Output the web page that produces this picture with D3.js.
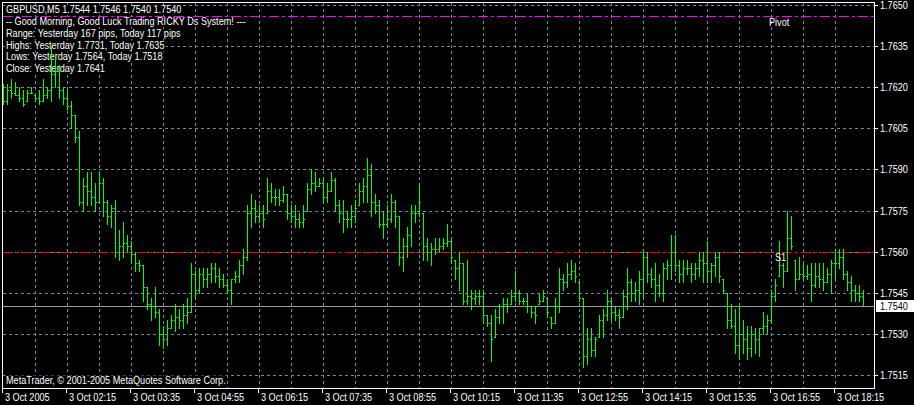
<!DOCTYPE html>
<html>
<head>
<meta charset="utf-8">
<script src="https://cdn.jsdelivr.net/npm/d3@7"></script>
<style>
body { margin: 0; background: #000; }
svg { display: block; }
text { font-family: "Liberation Sans", Arial, sans-serif; font-size: 11px; }
</style>
</head>
<body>
<svg id="chart" width="914" height="405"></svg>
<script>
var symbolTitle = "GBPUSD,M5  1.7544 1.7546 1.7540 1.7540";
var commentLines = [
  "-- Good Morning, Good Luck Trading RICKY Ds System! ---",
  "Range: Yesterday 167 pips, Today 117 pips",
  "Highs: Yesterday 1.7731, Today 1.7635",
  "Lows:  Yesterday 1.7564, Today 1.7518",
  "Close: Yesterday 1.7641"
];
var copyright = "MetaTrader, \u00a9 2001-2005 MetaQuotes Software Corp.";
var timeLabels = ["3 Oct 2005", "3 Oct 02:15", "3 Oct 03:35", "3 Oct 04:55", "3 Oct 06:15", "3 Oct 07:35",
  "3 Oct 08:55", "3 Oct 10:15", "3 Oct 11:35", "3 Oct 12:55", "3 Oct 14:15", "3 Oct 15:35", "3 Oct 16:55", "3 Oct 18:15"];
var priceTicks = [1.7650, 1.7635, 1.7620, 1.7605, 1.7590, 1.7575, 1.7560, 1.7545, 1.7530, 1.7515];
var pivotLevel = 1.7646;
var s1Level = 1.7560;
var lastPrice = 1.7540;

var opens = [
1.7618,1.7615,1.7619,1.7618,1.7617,1.7616,1.7615,1.7618,1.7617,1.7616,
1.7615,1.7617,1.7619,1.7625,1.7626,1.7619,1.7616,1.7613,1.7610,1.7602,
1.7578,1.7584,1.7582,1.7580,1.7578,1.7585,1.7578,1.7573,1.7576,1.7560,
1.7562,1.7563,1.7562,1.7559,1.7556,1.7555,1.7547,1.7541,1.7540,1.7538,
1.7530,1.7528,1.7532,1.7535,1.7536,1.7535,1.7537,1.7538,1.7552,1.7546,
1.7552,1.7550,1.7552,1.7554,1.7551,1.7550,1.7548,1.7546,1.7550,1.7551,
1.7555,1.7558,1.7574,1.7576,1.7573,1.7574,1.7574,1.7582,1.7580,1.7580,
1.7579,1.7581,1.7574,1.7573,1.7572,1.7571,1.7575,1.7583,1.7585,1.7584,
1.7585,1.7580,1.7582,1.7586,1.7577,1.7574,1.7572,1.7572,1.7573,1.7577,
1.7582,1.7584,1.7588,1.7578,1.7577,1.7570,1.7570,1.7572,1.7578,1.7573,
1.7558,1.7562,1.7566,1.7574,1.7574,1.7574,1.7562,1.7560,1.7561,1.7561,
1.7562,1.7563,1.7564,1.7557,1.7554,1.7556,1.7542,1.7544,1.7543,1.7544,
1.7544,1.7537,1.7534,1.7529,1.7536,1.7540,1.7541,1.7541,1.7544,1.7545,
1.7542,1.7542,1.7540,1.7538,1.7541,1.7542,1.7543,1.7536,1.7534,1.7540,
1.7550,1.7549,1.7552,1.7553,1.7549,1.7543,1.7522,1.7528,1.7524,1.7529,
1.7535,1.7537,1.7542,1.7538,1.7537,1.7536,1.7544,1.7549,1.7545,1.7546,
1.7550,1.7558,1.7552,1.7550,1.7548,1.7545,1.7554,1.7555,1.7560,1.7555,
1.7552,1.7554,1.7554,1.7552,1.7554,1.7557,1.7556,1.7553,1.7555,1.7558,
1.7550,1.7545,1.7535,1.7533,1.7526,1.7530,1.7528,1.7525,1.7530,1.7528,
1.7532,1.7533,1.7535,1.7544,1.7551,1.7555,1.7553,1.7565,1.7557,1.7550,
1.7552,1.7551,1.7552,1.7548,1.7551,1.7550,1.7549,1.7552,1.7556,1.7556,
1.7558,1.7552,1.7549,1.7546,1.7545,1.7544];
var highs = [
1.7621,1.7621,1.7623,1.7622,1.7620,1.7619,1.7619,1.7620,1.7617,1.7619,
1.7623,1.7620,1.7635,1.7632,1.7628,1.7620,1.7619,1.7615,1.7610,1.7604,
1.7587,1.7589,1.7589,1.7585,1.7589,1.7587,1.7579,1.7577,1.7579,1.7568,
1.7571,1.7566,1.7564,1.7560,1.7557,1.7555,1.7547,1.7543,1.7547,1.7539,
1.7533,1.7535,1.7537,1.7541,1.7539,1.7541,1.7543,1.7556,1.7553,1.7554,
1.7554,1.7554,1.7556,1.7556,1.7554,1.7552,1.7550,1.7550,1.7553,1.7557,
1.7561,1.7577,1.7581,1.7579,1.7577,1.7577,1.7587,1.7585,1.7583,1.7583,
1.7584,1.7581,1.7577,1.7577,1.7574,1.7577,1.7585,1.7590,1.7589,1.7587,
1.7587,1.7585,1.7589,1.7587,1.7579,1.7579,1.7575,1.7577,1.7579,1.7585,
1.7587,1.7594,1.7592,1.7581,1.7579,1.7575,1.7577,1.7581,1.7579,1.7573,
1.7565,1.7569,1.7577,1.7577,1.7585,1.7574,1.7565,1.7563,1.7565,1.7565,
1.7565,1.7570,1.7565,1.7557,1.7560,1.7556,1.7557,1.7546,1.7546,1.7546,
1.7546,1.7537,1.7537,1.7539,1.7541,1.7543,1.7543,1.7546,1.7553,1.7546,
1.7543,1.7545,1.7540,1.7540,1.7545,1.7546,1.7543,1.7536,1.7543,1.7554,
1.7552,1.7556,1.7557,1.7556,1.7549,1.7543,1.7532,1.7532,1.7529,1.7537,
1.7539,1.7546,1.7543,1.7540,1.7539,1.7546,1.7554,1.7550,1.7549,1.7553,
1.7561,1.7560,1.7554,1.7556,1.7552,1.7556,1.7557,1.7566,1.7566,1.7557,
1.7557,1.7557,1.7556,1.7556,1.7560,1.7560,1.7564,1.7556,1.7560,1.7560,
1.7550,1.7545,1.7541,1.7539,1.7540,1.7535,1.7533,1.7533,1.7532,1.7532,
1.7538,1.7537,1.7546,1.7550,1.7564,1.7556,1.7575,1.7573,1.7557,1.7558,
1.7556,1.7555,1.7556,1.7556,1.7556,1.7556,1.7554,1.7557,1.7561,1.7561,
1.7561,1.7553,1.7551,1.7548,1.7548,1.7546];
var lows = [
1.7614,1.7614,1.7616,1.7617,1.7615,1.7613,1.7615,1.7618,1.7615,1.7614,
1.7615,1.7616,1.7615,1.7620,1.7616,1.7614,1.7612,1.7605,1.7600,1.7577,
1.7575,1.7577,1.7577,1.7575,1.7578,1.7573,1.7570,1.7569,1.7558,1.7557,
1.7558,1.7560,1.7556,1.7553,1.7553,1.7542,1.7539,1.7535,1.7536,1.7526,
1.7525,1.7526,1.7532,1.7531,1.7532,1.7532,1.7534,1.7538,1.7543,1.7545,
1.7547,1.7547,1.7549,1.7549,1.7547,1.7547,1.7545,1.7541,1.7549,1.7549,
1.7552,1.7557,1.7569,1.7571,1.7571,1.7569,1.7574,1.7578,1.7577,1.7577,
1.7578,1.7572,1.7571,1.7569,1.7569,1.7569,1.7575,1.7581,1.7582,1.7584,
1.7578,1.7578,1.7582,1.7575,1.7571,1.7567,1.7569,1.7569,1.7571,1.7577,
1.7578,1.7578,1.7573,1.7574,1.7569,1.7565,1.7569,1.7571,1.7569,1.7555,
1.7553,1.7558,1.7562,1.7571,1.7573,1.7557,1.7557,1.7555,1.7559,1.7560,
1.7561,1.7562,1.7556,1.7550,1.7546,1.7541,1.7541,1.7539,1.7541,1.7541,
1.7534,1.7533,1.7520,1.7529,1.7534,1.7534,1.7538,1.7541,1.7542,1.7541,
1.7541,1.7538,1.7536,1.7534,1.7541,1.7542,1.7536,1.7532,1.7534,1.7538,
1.7546,1.7547,1.7550,1.7549,1.7542,1.7518,1.7519,1.7522,1.7522,1.7529,
1.7529,1.7535,1.7535,1.7535,1.7532,1.7536,1.7539,1.7542,1.7542,1.7541,
1.7543,1.7549,1.7547,1.7542,1.7544,1.7542,1.7550,1.7550,1.7553,1.7549,
1.7549,1.7552,1.7549,1.7550,1.7551,1.7549,1.7549,1.7549,1.7551,1.7549,
1.7545,1.7532,1.7532,1.7523,1.7521,1.7523,1.7521,1.7522,1.7523,1.7522,
1.7530,1.7530,1.7534,1.7542,1.7551,1.7547,1.7553,1.7561,1.7546,1.7550,
1.7550,1.7550,1.7542,1.7547,1.7547,1.7546,1.7549,1.7545,1.7550,1.7554,
1.7550,1.7546,1.7542,1.7542,1.7542,1.7540];
var closes = [
1.7615,1.7619,1.7618,1.7617,1.7616,1.7614,1.7618,1.7618,1.7616,1.7615,
1.7617,1.7619,1.7625,1.7626,1.7619,1.7616,1.7613,1.7610,1.7602,1.7578,
1.7584,1.7582,1.7580,1.7578,1.7585,1.7578,1.7573,1.7576,1.7560,1.7562,
1.7563,1.7562,1.7559,1.7556,1.7555,1.7547,1.7541,1.7540,1.7538,1.7530,
1.7528,1.7532,1.7535,1.7536,1.7535,1.7537,1.7538,1.7552,1.7546,1.7552,
1.7550,1.7552,1.7554,1.7551,1.7550,1.7548,1.7546,1.7550,1.7551,1.7555,
1.7558,1.7574,1.7576,1.7573,1.7574,1.7572,1.7582,1.7580,1.7580,1.7579,
1.7581,1.7574,1.7573,1.7572,1.7571,1.7572,1.7583,1.7585,1.7584,1.7585,
1.7580,1.7582,1.7586,1.7577,1.7574,1.7572,1.7572,1.7573,1.7576,1.7582,
1.7584,1.7588,1.7578,1.7577,1.7570,1.7570,1.7572,1.7578,1.7573,1.7558,
1.7562,1.7566,1.7574,1.7574,1.7578,1.7562,1.7560,1.7561,1.7561,1.7562,
1.7563,1.7564,1.7558,1.7554,1.7556,1.7542,1.7544,1.7543,1.7544,1.7544,
1.7537,1.7534,1.7528,1.7536,1.7540,1.7541,1.7540,1.7544,1.7545,1.7542,
1.7542,1.7540,1.7538,1.7537,1.7542,1.7544,1.7538,1.7534,1.7540,1.7550,
1.7549,1.7552,1.7553,1.7551,1.7543,1.7522,1.7528,1.7524,1.7528,1.7535,
1.7537,1.7542,1.7538,1.7537,1.7536,1.7544,1.7549,1.7545,1.7546,1.7550,
1.7558,1.7552,1.7550,1.7548,1.7545,1.7554,1.7555,1.7560,1.7555,1.7552,
1.7554,1.7554,1.7552,1.7554,1.7557,1.7556,1.7553,1.7555,1.7558,1.7551,
1.7546,1.7535,1.7533,1.7526,1.7530,1.7528,1.7525,1.7530,1.7528,1.7532,
1.7533,1.7535,1.7544,1.7548,1.7555,1.7553,1.7565,1.7562,1.7550,1.7552,
1.7551,1.7552,1.7548,1.7551,1.7550,1.7549,1.7552,1.7556,1.7556,1.7558,
1.7552,1.7549,1.7546,1.7545,1.7544,1.7540];

var svg = d3.select('#chart');
var W = 914, H = 405;
var plotLeft = 2, plotRight = 874, plotTop = 2, plotBottom = 388;
var textScale = 0.83;

svg.append('rect').attr('width', W).attr('height', H).attr('fill', '#000');

var x = d3.scaleLinear().domain([0, opens.length - 1]).range([3, 3 + 4 * (opens.length - 1)]);
var y = d3.scaleLinear().domain([1.7515, 1.7650]).range([375.5, 5.5]);
function py(v) { return Math.floor(y(v)); }

// narrow text, like the terminal's bitmap font
function label(parent, tx, ty, str, fill) {
  return parent.append('text')
    .attr('transform', 'translate(' + tx + ',' + ty + ') scale(' + textScale + ',1)')
    .attr('fill', fill)
    .text(str);
}
// tight black box behind a text line (cap top to just under baseline)
function backing(parent, t, tx, ty, below) {
  var bb = t.node().getBBox();
  parent.insert('rect', function() { return t.node(); })
    .attr('x', tx - 1).attr('y', ty - 8)
    .attr('width', bb.width * textScale + 2)
    .attr('height', 8 + below)
    .attr('fill', '#000');
}

var grid = svg.append('g').attr('id', 'grid')
  .attr('stroke', '#778899').attr('stroke-dasharray', '3,3').attr('stroke-width', 1);

grid.selectAll('line.h').data(priceTicks).join('line')
  .attr('class', 'h')
  .attr('x1', plotLeft + 1).attr('x2', plotRight)
  .attr('y1', d => py(d) + 0.5).attr('y2', d => py(d) + 0.5);

grid.selectAll('line.v').data(d3.range(8, opens.length, 8)).join('line')
  .attr('class', 'v')
  .attr('x1', d => x(d) + 0.5).attr('x2', d => x(d) + 0.5)
  .attr('y1', plotTop + 1).attr('y2', plotBottom);

// info text block (drawn before the level lines so the pivot line stays on top)
var info = svg.append('g').attr('id', 'info');
var infoLines = [symbolTitle].concat(commentLines);
var baselines = [13, 25, 37, 48.5, 60, 71.5];
infoLines.forEach(function(t, k) {
  var tx = label(info, 6, baselines[k], t, '#fff');
  backing(info, tx, 6, baselines[k], 2);
});
var cpg = svg.append('g');
var cp = label(cpg, 6, 383.5, copyright, '#fff');
backing(cpg, cp, 6, 383.5, 4);

// pivot / S1 / bid lines
svg.append('line')
  .attr('x1', plotLeft + 1).attr('x2', plotRight)
  .attr('y1', py(pivotLevel) + 0.5).attr('y2', py(pivotLevel) + 0.5)
  .attr('stroke', '#ff00ff').attr('stroke-dasharray', '10,3,3,3');
svg.append('line')
  .attr('x1', plotLeft + 1).attr('x2', plotRight)
  .attr('y1', py(s1Level) + 0.5).attr('y2', py(s1Level) + 0.5)
  .attr('stroke', '#ff0000').attr('stroke-dasharray', '10,3,3,3');
svg.append('line')
  .attr('x1', plotLeft + 1).attr('x2', plotRight)
  .attr('y1', py(lastPrice) + 0.5).attr('y2', py(lastPrice) + 0.5)
  .attr('stroke', '#8f98a3');

// OHLC bars
var bars = svg.append('g').attr('id', 'bars').attr('fill', '#00ff00');
var idx = d3.range(opens.length);
bars.selectAll('rect.hl').data(idx).join('rect')
  .attr('class', 'hl')
  .attr('x', i => x(i)).attr('width', 1)
  .attr('y', i => py(highs[i]))
  .attr('height', i => py(lows[i]) - py(highs[i]) + 1);
bars.selectAll('rect.o').data(idx).join('rect')
  .attr('class', 'o')
  .attr('x', i => x(i) - 1).attr('width', 1)
  .attr('y', i => py(opens[i])).attr('height', 1);
bars.selectAll('rect.c').data(idx).join('rect')
  .attr('class', 'c')
  .attr('x', i => x(i) + 1).attr('width', 1)
  .attr('y', i => py(closes[i])).attr('height', 1);

label(svg, 769, 26, 'Pivot', '#fff');
label(svg, 775, 261, 'S1', '#fff');

// frame
var frame = svg.append('g').attr('stroke', '#fff').attr('stroke-width', 1);
frame.append('line').attr('x1', plotLeft + 0.5).attr('x2', plotLeft + 0.5).attr('y1', plotTop).attr('y2', plotBottom + 1);
frame.append('line').attr('x1', plotRight + 0.5).attr('x2', plotRight + 0.5).attr('y1', plotTop).attr('y2', plotBottom + 1);
frame.append('line').attr('x1', plotLeft).attr('x2', plotRight + 1).attr('y1', plotTop + 0.5).attr('y2', plotTop + 0.5);
frame.append('line').attr('x1', plotLeft).attr('x2', plotRight + 1).attr('y1', plotBottom + 0.5).attr('y2', plotBottom + 0.5);

// price axis
var yAxis = svg.append('g').attr('id', 'y-axis');
yAxis.selectAll('line').data(priceTicks).join('line')
  .attr('x1', plotRight + 1).attr('x2', plotRight + 4)
  .attr('y1', d => py(d) + 0.5).attr('y2', d => py(d) + 0.5)
  .attr('stroke', '#fff');
priceTicks.forEach(function(d) {
  label(yAxis, 880, py(d) + 4, d.toFixed(4), '#fff');
});

// bid price box
svg.append('rect').attr('x', 876).attr('y', py(lastPrice) - 6).attr('width', 38).attr('height', 12).attr('fill', '#fff');
label(svg, 880, py(lastPrice) + 4, lastPrice.toFixed(4), '#000');

// time axis
var xAxis = svg.append('g').attr('id', 'x-axis');
xAxis.selectAll('line').data(timeLabels).join('line')
  .attr('x1', (d, k) => x(16 * k) - 0.5).attr('x2', (d, k) => x(16 * k) - 0.5)
  .attr('y1', plotBottom + 1).attr('y2', plotBottom + 5)
  .attr('stroke', '#fff');
timeLabels.forEach(function(d, k) {
  label(xAxis, x(16 * k) + 2, 401, d, '#fff');
});
</script>
</body>
</html>
